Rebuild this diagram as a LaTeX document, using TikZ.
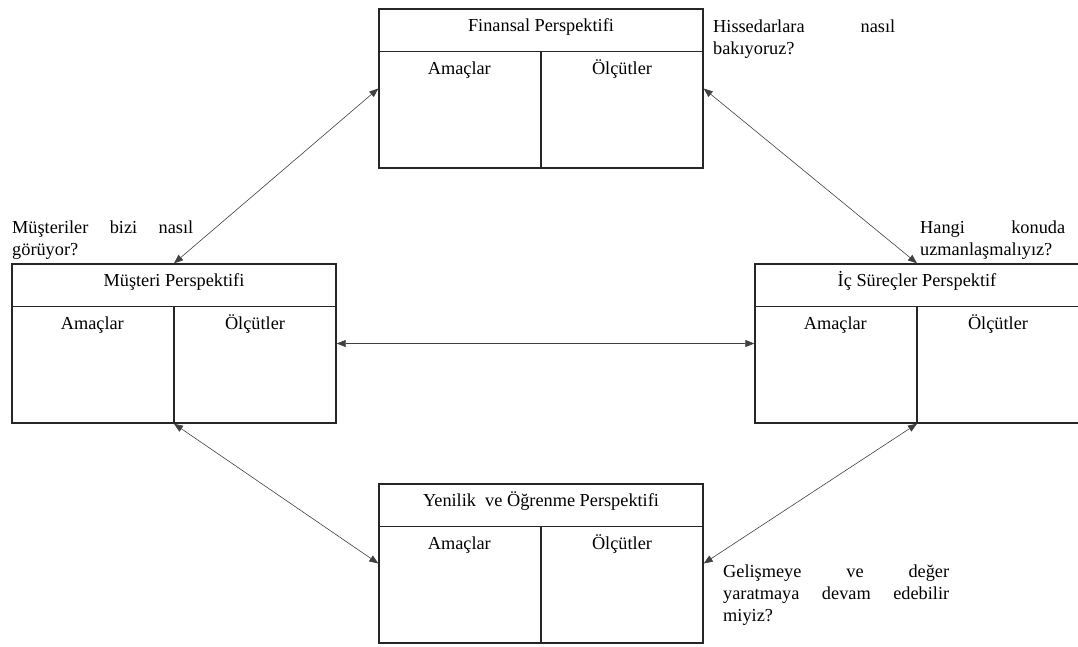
\documentclass[tikz,border=0pt]{standalone}
\usepackage{fontspec}
\setmainfont{Liberation Serif}
\usetikzlibrary{arrows.meta,calc}
\hyphenpenalty=10000
\exhyphenpenalty=10000
\tikzset{
  panel/.style={draw=black!85, line width=1.4pt, minimum width=324pt, minimum height=159pt, inner sep=0pt},
  rule/.style={draw=black!85, line width=1.4pt},
  txt/.style={font=\fontsize{18.3}{22}\selectfont, inner sep=0pt, anchor=base},
  note/.style={font=\fontsize{18.3}{22}\selectfont, inner sep=0pt, align=justify, anchor=base west},
  link/.style={draw=black!75, line width=0.6pt, {Triangle[length=9pt,width=7pt]}-{Triangle[length=9pt,width=7pt]}}
}
% one perspective panel: name, centre, title
\newcommand\bscpanel[3]{%
  \node[panel] (#1) at (#2) {};
  \draw[rule] ($(#1.north west)+(0,43)$) -- ($(#1.north east)+(0,43)$);
  \draw[rule] ($(#1.north)+(0,43)$) -- (#1.south);
  \node[txt] (#1-t) at ($(#1.north)+(0,23)$) {#3};
  \node[txt] (#1-a) at ($(#1.north west)+(81,66)$) {Amaçlar};
  \node[txt] (#1-o) at ($(#1.north)+(81,66)$) {Ölçütler};
}
\begin{document}
\begin{tikzpicture}[x=1pt,y=-1pt]
\useasboundingbox (0,0) rectangle (1078,646);
\bscpanel{fin}{541,88.5}{Finansal Perspektifi}
\bscpanel{cus}{174,343.5}{Müşteri Perspektifi}
\bscpanel{int}{917,343.5}{İç Süreçler Perspektif}
\bscpanel{lrn}{541,563.5}{Yenilik\ \ ve Öğrenme Perspektifi}

\draw[link] (fin.west) -- (cus.north);
\draw[link] (fin.east) -- (int.north);
\draw[link] (cus.east) -- (int.west);
\draw[link] (cus.south) -- (lrn.west);
\draw[link] (int.south) -- (lrn.east);

\node[note, text width=182pt] (q1) at (713,32) {Hissedarlara nasıl bakıyoruz?};
\node[note, text width=181pt] (q2) at (12,233) {Müşteriler bizi nasıl görüyor?};
\node[note, text width=145pt] (q3) at (920,233) {Hangi konuda uzmanlaşmalıyız?};
\node[note, text width=226pt] (q4) at (723,577) {Gelişmeye ve değer\linebreak yaratmaya devam edebilir\linebreak miyiz?};
\end{tikzpicture}
\end{document}
